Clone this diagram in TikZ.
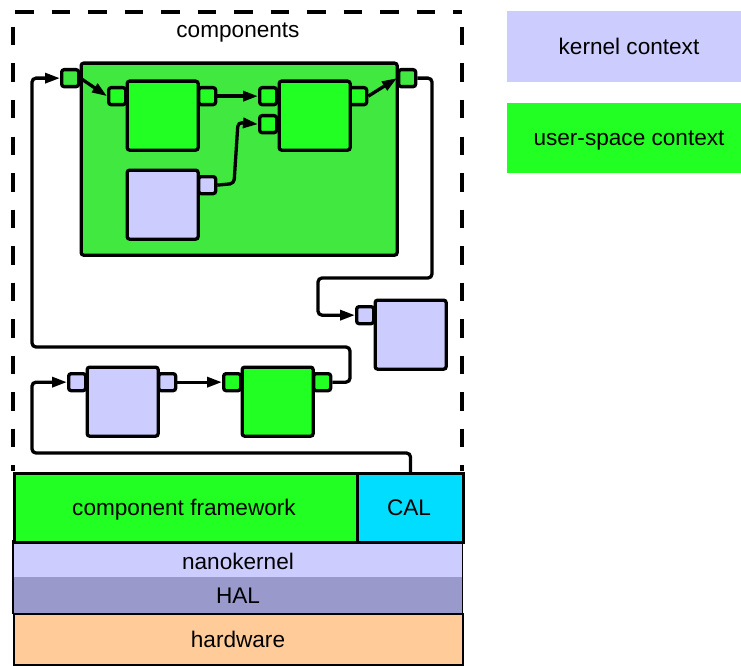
\documentclass[tikz,border=0pt]{standalone}
\usepackage{fontspec}
\setmainfont{Liberation Sans}
\usetikzlibrary{arrows.meta}
\definecolor{ugreen}{RGB}{34,255,34}
\definecolor{cgreen}{RGB}{64,232,64}
\definecolor{lav}{RGB}{204,204,255}
\definecolor{calblue}{RGB}{0,221,255}
\definecolor{halc}{RGB}{153,153,204}
\definecolor{hwc}{RGB}{255,204,153}
\tikzset{
  box/.style={draw=black, line width=3.3pt, rounded corners=2.5pt, inner sep=0pt, anchor=north west},
  port/.style={box, minimum width=17pt, minimum height=17pt},
  comp/.style={box, minimum width=71pt, minimum height=69pt},
  conn/.style={line width=3.3pt, rounded corners=4pt, -{Triangle[length=15pt,width=10pt]}},
  layer/.style={inner sep=0pt, anchor=north west},
  label/.style={font=\fontsize{22.6}{27}\selectfont, inner sep=0pt, anchor=base},
  dashline/.style={line width=3.5pt, dash pattern=on 18.5pt off 18pt},
}
\begin{document}
\begin{tikzpicture}[x=1pt, y=-1pt]
\useasboundingbox (0,0) rectangle (741,666);

% legend
\node[layer, fill=lav, minimum width=234pt, minimum height=71pt] (legk) at (507,11) {};
\node[label] (legkt) at (629,55) {kernel context};
\node[layer, fill=ugreen, minimum width=234pt, minimum height=70pt] (legu) at (507,103) {};
\node[label] (legut) at (629,146) {user-space context};

% dashed components region
\node[label] (comptitle) at (238,38) {components};
\coordinate (d0) at (15,12);
\coordinate (d1) at (13,27);
\coordinate (d2) at (13,471);
\coordinate (d3) at (462,12);
\coordinate (d4) at (462,27);
\coordinate (d5) at (462,471);
\draw[dashline] (d0) -- (d3);
\draw[dashline] (d1) -- (d2);
\draw[dashline] (d4) -- (d5);

% composite component and its ports
\node[port, fill=cgreen] (Kin) at (60,68) {};
\node[port, fill=cgreen] (Kout) at (397,68) {};
\node[box, fill=cgreen, minimum width=316pt, minimum height=192pt] (K) at (79.5,61.5) {};

% inner components
\node[port, fill=ugreen] (Ain) at (107,86) {};
\node[port, fill=ugreen] (Aout) at (197,86) {};
\node[comp, fill=ugreen] (A) at (125.5,79.5) {};

\node[port, fill=ugreen] (Bin1) at (258,86) {};
\node[port, fill=ugreen] (Bin2) at (258,114) {};
\node[port, fill=ugreen] (Bout) at (348,86) {};
\node[comp, fill=ugreen] (B) at (277.5,79.5) {};

\node[port, fill=lav] (Cout) at (197,175) {};
\node[comp, fill=lav] (C) at (125.5,168.5) {};

% free-standing components
\node[port, fill=lav] (Din) at (355,305) {};
\node[comp, fill=lav] (D) at (373.5,298.5) {};

\node[port, fill=lav] (Ein) at (67,372) {};
\node[port, fill=lav] (Eout) at (157,372) {};
\node[comp, fill=lav] (E) at (85.5,365.5) {};

\node[port, fill=ugreen] (Fin) at (222,372) {};
\node[port, fill=ugreen] (Fout) at (312,372) {};
\node[comp, fill=ugreen] (F) at (240.5,365.5) {};

% system layers
\node[layer, fill=lav, minimum width=449pt, minimum height=36pt] (nano) at (13,541) {};
\node[label] (nanot) at (238,569) {nanokernel};
\node[layer, fill=halc, minimum width=449pt, minimum height=36pt] (hal) at (13,577) {};
\node[label] (halt) at (238,603) {HAL};
\draw[line width=1.5pt] (nano.north west) rectangle (hal.south east);
\node[layer, draw, line width=1.5pt, fill=hwc, minimum width=449pt, minimum height=51pt] (hw) at (13,613) {};
\node[label] (hwt) at (238,647) {hardware};
\node[layer, draw, line width=3pt, fill=ugreen, minimum width=343pt, minimum height=69pt] (cf) at (13,472) {};
\node[label] (cft) at (184,515) {component framework};
\node[layer, draw, line width=3pt, fill=calblue, minimum width=106pt, minimum height=69pt] (cal) at (356,472) {};
\node[label] (calt) at (409,515) {CAL};

% connectors inside the composite
\draw[conn] (Kin.east) -- (Ain.west);
\draw[conn] (Aout.east) -- (Bin1.west);
\coordinate (c1) at (234,183.5);
\coordinate (c2) at (238,122.5);
\draw[conn] (Cout.east) -- (c1) -- (c2) -- (Bin2.west);
\draw[conn] (Bout.east) -- (Kout.west);

% composite output to D
\coordinate (k1) at (432,278);
\coordinate (k2) at (318,278);
\draw[conn] (Kout.east) -| (k1) -- (k2) |- (Din.west);

% E -> F
\draw[conn] (Eout.east) -- (Fin.west);

% F output loops back to the composite input
\coordinate (f1) at (350,347);
\coordinate (f2) at (32,347);
\draw[conn] (Fout.east) -| (f1) -- (f2) |- (Kin.west);

% CAL feeds E
\coordinate (e1) at (32,453);
\draw[conn] (cal.north) |- (e1) |- (Ein.west);
\end{tikzpicture}
\end{document}
